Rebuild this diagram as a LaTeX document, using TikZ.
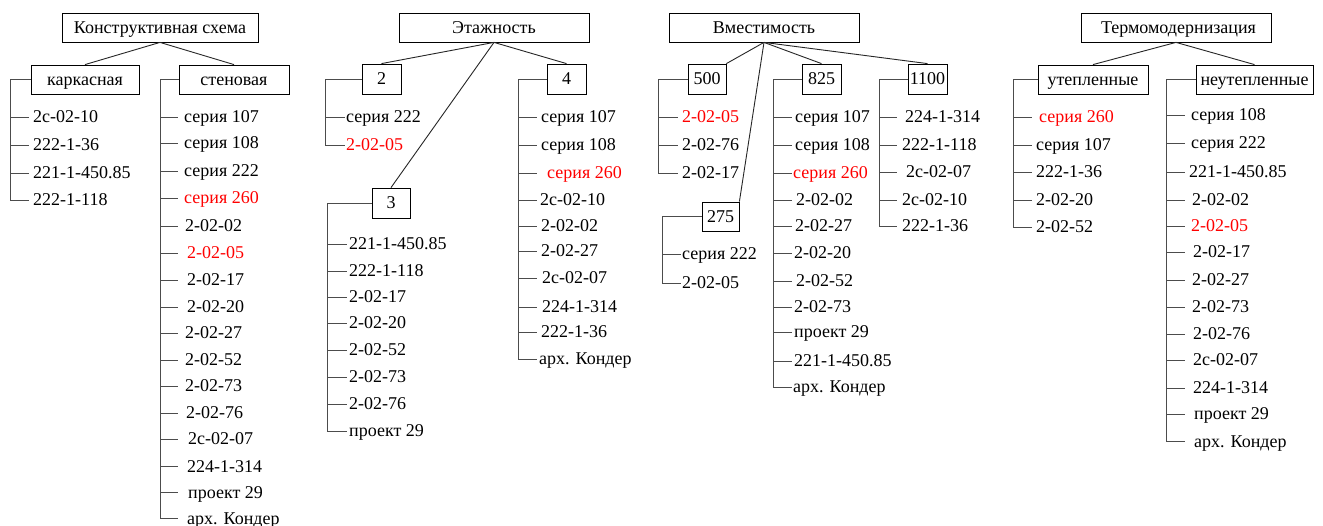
\documentclass[tikz,border=0pt]{standalone}
\usepackage{fontspec}
\setmainfont{Liberation Serif}
\tikzset{
  boxnode/.style={draw=black, line width=0.8pt, inner sep=0pt, text height=12pt, text depth=0pt, font=\fontsize{18}{20}\selectfont},
  item/.style={anchor=west, inner sep=0pt, text height=12pt, text depth=0pt, font=\fontsize{18}{20}\selectfont},
  conn/.style={draw=black!85, line width=0.9pt},
  br/.style={draw=black!70, line width=0.9pt}
}
\newcommand\grp[6]{%
  \coordinate (#1sp) at (#3,0);
  \coordinate (#1te) at (#4,0);
  \foreach \xx/\yy/\cc/\tt [count=\i] in {#5}{%
    \node[item,text=\cc] (#1\i) at (\xx,\yy) {\tt};
  }
  \foreach \i in {1,...,#6}{\draw[br] (#1sp |- #1\i.west) -- (#1te |- #1\i.west);}
  \draw[br] (#2.west) -| (#1sp |- #1#6.west);
}
\begin{document}
\begin{tikzpicture}[x=1pt,y=-1pt]
\fill[white] (0,0) rectangle (1323,526);
\useasboundingbox (0,0) rectangle (1323,526);

% --- Конструктивная схема
\node[boxnode, minimum width=196pt, minimum height=29pt] (kon) at (160,27.5) {Конструктивная схема};
\node[boxnode, minimum width=108pt, minimum height=29pt] (kark) at (85,79.5) {каркасная};
\node[boxnode, minimum width=110pt, minimum height=29pt] (sten) at (234,79.5) {стеновая};
\draw[conn] (kon.south) -- (kark.north);
\draw[conn] (kon.south) -- (sten.north);
\grp{k}{kark}{10}{29}{33/117/black/2с-02-10, 33/145/black/222-1-36, 33/173/black/221-1-450.85, 33/200/black/222-1-118}{4}
\grp{s}{sten}{160}{178}{184/117/black/серия 107, 184/143/black/серия 108, 184/171/black/серия 222, 184/198/red/серия 260, 185/226/black/2-02-02, 187/253/red/2-02-05, 187/280/black/2-02-17, 187/307/black/2-02-20, 185/333/black/2-02-27, 185/360/black/2-02-52, 185/386/black/2-02-73, 186/413/black/2-02-76, 188/439/black/2с-02-07, 187/466/black/224-1-314, 188/492/black/проект 29, 187/518/black/арх. Кондер}{16}

% --- Этажность
\node[boxnode, minimum width=190pt, minimum height=29pt] (et) at (494,27.5) {Этажность};
\node[boxnode, minimum width=39pt, minimum height=30pt] (e2b) at (381.5,79) {2};
\node[boxnode, minimum width=39pt, minimum height=30pt] (e4b) at (566.5,79) {4};
\node[boxnode, minimum width=38pt, minimum height=30pt] (e3b) at (391,203) {3};
\draw[conn] (et.south) -- (e2b.north);
\draw[conn] (et.south) -- (e4b.north);
\draw[conn] (et.south) -- (e3b.north);
\grp{ea}{e2b}{325}{345}{346/117/black/серия 222, 346/145/red/2-02-05}{2}
\grp{eb}{e3b}{327}{347}{349/244/black/221-1-450.85, 349/271/black/222-1-118, 349/297/black/2-02-17, 349/323/black/2-02-20, 349/350/black/2-02-52, 349/377/black/2-02-73, 349/404/black/2-02-76, 349/431/black/проект 29}{8}
\grp{ec}{e4b}{518}{537}{541/117/black/серия 107, 541/145/black/серия 108, 547/173/red/серия 260, 540/200/black/2с-02-10, 541/226/black/2-02-02, 541/251/black/2-02-27, 542/278/black/2с-02-07, 542/307/black/224-1-314, 541/332/black/222-1-36, 539/359/black/арх. Кондер}{10}

% --- Вместимость
\node[boxnode, minimum width=190pt, minimum height=29pt] (vm) at (764,27.5) {Вместимость};
\node[boxnode, minimum width=38pt, minimum height=30pt] (v500) at (707,79) {500};
\node[boxnode, minimum width=39pt, minimum height=30pt] (v825) at (821.5,79) {825};
\node[boxnode, minimum width=39pt, minimum height=30pt] (v1100) at (927.5,79) {1100};
\node[boxnode, minimum width=37pt, minimum height=29pt] (v275) at (720.5,216.5) {275};
\draw[conn] (vm.south) -- (v500.north east);
\draw[conn] (vm.south) -- (v825.north);
\draw[conn] (vm.south) -- (v1100.north);
\draw[conn] (vm.south) -- (v275.north east);
\grp{va}{v500}{658}{678}{682/117/red/2-02-05, 682/145/black/2-02-76, 682/173/black/2-02-17}{3}
\grp{vb}{v275}{662}{681}{682/254/black/серия 222, 682/283/black/2-02-05}{2}
\grp{vc}{v825}{773}{792}{795/117/black/серия 107, 795/145/black/серия 108, 793/173/red/серия 260, 796/200/black/2-02-02, 795/226/black/2-02-27, 794/253/black/2-02-20, 796/281/black/2-02-52, 794/307/black/2-02-73, 794/332/black/проект 29, 794/361/black/221-1-450.85, 793/387/black/арх. Кондер}{11}
\grp{vd}{v1100}{879}{897}{905/117/black/224-1-314, 902/145/black/222-1-118, 906/172/black/2с-02-07, 902/200/black/2с-02-10, 902/226/black/222-1-36}{5}

% --- Термомодернизация
\node[boxnode, minimum width=190pt, minimum height=29pt] (tm) at (1176,27.5) {\hspace{5pt}Термомодернизация};
\node[boxnode, minimum width=110pt, minimum height=29pt] (tu) at (1093,79.5) {утепленные};
\node[boxnode, minimum width=117pt, minimum height=29pt] (tn) at (1254.5,79.5) {неутепленные};
\draw[conn] (tm.south) -- (tu.north);
\draw[conn] (tm.south) -- (tn.north);
\grp{ta}{tu}{1013}{1032}{1039/117/red/серия 260, 1036/145/black/серия 107, 1036/172/black/222-1-36, 1036/200/black/2-02-20, 1036/227/black/2-02-52}{5}
\grp{tb}{tn}{1166}{1185}{1191/115/black/серия 108, 1191/143/black/серия 222, 1189/172/black/221-1-450.85, 1192/200/black/2-02-02, 1191/226/red/2-02-05, 1193/252/black/2-02-17, 1192/280/black/2-02-27, 1192/307/black/2-02-73, 1193/334/black/2-02-76, 1193/360/black/2с-02-07, 1193/388/black/224-1-314, 1194/414/black/проект 29, 1194/441/black/арх. Кондер}{13}
\end{tikzpicture}
\end{document}
